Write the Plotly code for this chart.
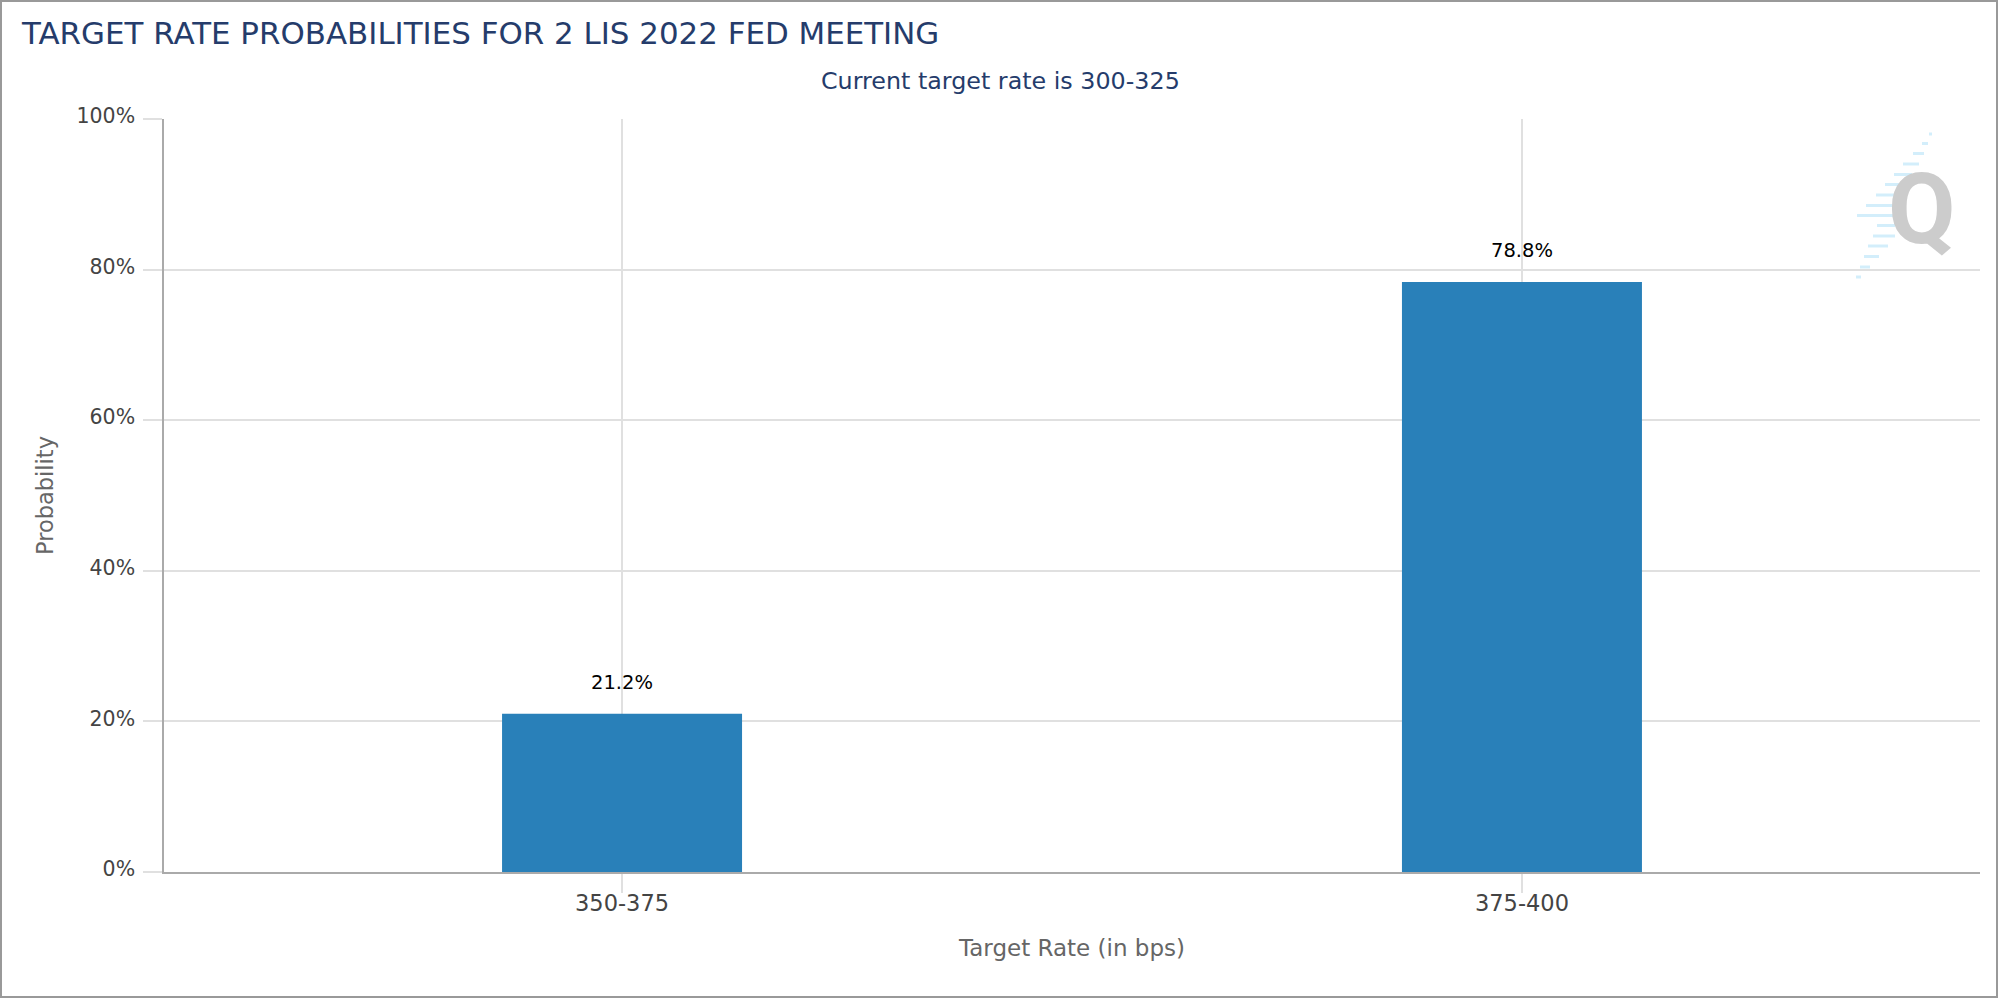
import plotly.graph_objects as go

categories = ["350-375", "375-400"]
# bar heights as measured on the axis, they sit a little under the printed labels
bar_heights = [21.0, 78.35]
bar_labels = ["21.2%", "78.8%"]
y_ticks = [0, 20, 40, 60, 80, 100]
y_tick_labels = ["0%", "20%", "40%", "60%", "80%", "100%"]

# Q logo stripes: top, left, right in page pixels
stripes = [
    (132.5, 1929, 1932), (142, 1922, 1928), (152, 1913, 1924), (162.5, 1903, 1919),
    (173, 1894, 1912), (183, 1885, 1900), (193.5, 1876, 1895), (204, 1866, 1895),
    (214, 1857, 1895), (224, 1877, 1895), (234.5, 1873, 1895), (244.5, 1868, 1888),
    (255, 1864, 1879), (265.5, 1860, 1870), (275.5, 1856, 1861),
]

LEFT, RIGHT, TOP, BOTTOM = 164, 1980, 119, 872
FONT = "DejaVu Sans"


def px(x):
    return (x - LEFT) / (RIGHT - LEFT)


def py(y):
    return (BOTTOM - y) / (BOTTOM - TOP)


fig = go.Figure()
fig.add_trace(
    go.Bar(
        x=categories,
        y=bar_heights,
        width=0.2667,
        marker=dict(color="#2980b9", line=dict(width=0)),
        showlegend=False,
    )
)

# labels above the bars
for cat, h, label in zip(categories, bar_heights, bar_labels):
    fig.add_annotation(
        x=cat, y=h, text=label, showarrow=False, yanchor="bottom", yshift=18,
        font=dict(family=FONT, size=19.5, color="#000000"),
    )

# Subtitle
fig.add_annotation(
    xref="paper", yref="paper", x=px(1000), y=py(81), xanchor="center", yanchor="middle",
    text="Current target rate is 300-325", showarrow=False,
    font=dict(family=FONT, size=23.8, color="#253c6b"),
)

# Watermark
for top, left, right in stripes:
    fig.add_shape(
        type="rect", xref="paper", yref="paper", x0=px(left), x1=px(right),
        y0=py(top), y1=py(top + 3), line=dict(width=0), fillcolor="#d3eefb", layer="below",
    )
fig.add_annotation(
    xref="paper", yref="paper", x=px(1922), y=py(209), xanchor="center", yanchor="middle",
    text="<b>Q</b>", showarrow=False,
    font=dict(family="Roboto", size=98, color="#cccccc"),
)

# Frame around the whole chart
fig.add_shape(
    type="rect", xref="paper", yref="paper", x0=px(1), x1=px(1997), y0=py(1), y1=py(997),
    line=dict(color="#999999", width=2), layer="below",
)

fig.update_layout(
    width=2000,
    height=1000,
    margin=dict(l=LEFT, r=2000 - RIGHT, t=TOP, b=1000 - BOTTOM),
    paper_bgcolor="white",
    plot_bgcolor="white",
    font=dict(family=FONT),
    title=dict(
        text="TARGET RATE PROBABILITIES FOR 2 LIS 2022 FED MEETING",
        x=22 / 2000, xanchor="left", y=1 - 33 / 1000, yanchor="middle",
        font=dict(family=FONT, size=30.9, color="#253c6b"),
    ),
    xaxis=dict(
        type="category",
        range=[-0.509, 1.509],
        showgrid=True, gridcolor="#e0e0e0", gridwidth=1.5,
        showline=True, linecolor="#aaaaaa", linewidth=2,
        ticks="outside", ticklen=19, tickcolor="#e0e0e0", tickwidth=1.5,
        ticklabelstandoff=-9,
        tickfont=dict(family=FONT, size=22.5, color="#444444"),
        title=dict(text="Target Rate (in bps)", font=dict(family=FONT, size=23, color="#666666"), standoff=25),
    ),
    yaxis=dict(
        range=[0, 100],
        tickvals=y_ticks,
        ticktext=y_tick_labels,
        showgrid=True, gridcolor="#e0e0e0", gridwidth=1.5, zeroline=False,
        showline=True, linecolor="#aaaaaa", linewidth=1.5,
        ticks="outside", ticklen=19, tickcolor="#e0e0e0", tickwidth=1.5,
        ticklabelstandoff=4, ticklabelshift=-3,
        tickfont=dict(family=FONT, size=20.5, color="#444444"),
        title=dict(text="Probability", font=dict(family=FONT, size=22.5, color="#666666"), standoff=17),
    ),
)

# no page margin around the chart
fig.write_html(
    "out.html",
    config=dict(displayModeBar=False),
    post_script="document.body.style.margin = '0';",
)
